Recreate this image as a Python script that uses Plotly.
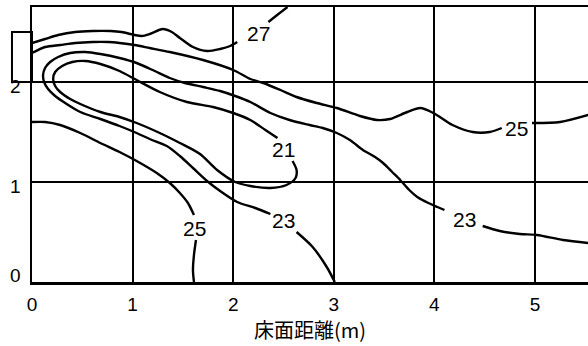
import plotly.graph_objects as go

# ---- contour line data (x: floor distance in m, y: height in m) ----
line27_a_x = [0, .13, .26, .43, .60, .78, .89, 1.02, 1.09, 1.17, 1.30, 1.39, 1.47, 1.60, 1.74, 1.87, 1.97, 2.04]
line27_a_y = [2.39, 2.43, 2.47, 2.50, 2.51, 2.51, 2.50, 2.47, 2.46, 2.48, 2.53, 2.50, 2.44, 2.35, 2.31, 2.33, 2.36, 2.40]
line27_b_x = [2.35, 2.45, 2.54]
line27_b_y = [2.60, 2.68, 2.75]

line25u_a_x = [0, .13, .28, .43, .60, .76, .87, 1.02, 1.17, 1.37, 1.70, 2.00, 2.17, 2.30, 2.47, 2.63, 2.83, 3.03,
               3.26, 3.43, 3.56, 3.73, 3.86, 3.99, 4.18, 4.38, 4.55, 4.67]
line25u_a_y = [2.29, 2.35, 2.37, 2.39, 2.40, 2.40, 2.39, 2.37, 2.34, 2.30, 2.22, 2.12, 2.03, 1.99, 1.92, 1.85, 1.79, 1.74,
               1.66, 1.62, 1.63, 1.70, 1.74, 1.69, 1.57, 1.50, 1.50, 1.54]
line25u_b_x = [4.97, 5.25, 5.53]
line25u_b_y = [1.59, 1.60, 1.67]

line23_a_x = [3.01, 2.93, 2.79, 2.63]
line23_a_y = [0, .15, .35, .50]
line23_b_x = [2.37, 2.22, 2.04, 1.87, 1.74, 1.60, 1.47, 1.34, 1.17, 1.04, .87, .68, .48, .33, .23, .16, .12, .11,
              .13, .18, .26, .38, .53, .68, .87, 1.04, 1.22, 1.37, 1.52, 1.70, 1.87, 2.02, 2.17, 2.37, 2.56, 2.76,
              2.89, 3.03, 3.16, 3.29, 3.41, 3.49, 3.58, 3.66, 3.75, 3.83, 3.94, 4.03, 4.10]
line23_b_y = [.68, .74, .80, .91, 1.01, 1.14, 1.26, 1.36, 1.43, 1.49, 1.56, 1.63, 1.70, 1.79, 1.86, 1.93, 2.00, 2.07,
              2.14, 2.20, 2.25, 2.29, 2.30, 2.28, 2.24, 2.19, 2.11, 2.04, 1.99, 1.95, 1.91, 1.86, 1.80, 1.69, 1.62, 1.57,
              1.54, 1.49, 1.42, 1.32, 1.25, 1.19, 1.10, 1.02, .92, .85, .79, .75, .72]
line23_c_x = [4.48, 4.65, 4.85, 5.02, 5.28, 5.53]
line23_c_y = [.56, .51, .48, .47, .42, .39]

line21_x = [2.44, 2.32, 2.17, 2.00, 1.80, 1.54, 1.27, 1.04, .87, .68, .53, .40, .30, .23, .21, .23, .28, .38, .48,
            .68, .87, 1.04, 1.27, 1.47, 1.67, 1.84, 2.02, 2.17, 2.37, 2.53, 2.62, 2.63, 2.59]
line21_y = [1.44, 1.52, 1.62, 1.69, 1.75, 1.80, 1.90, 2.02, 2.11, 2.18, 2.21, 2.20, 2.16, 2.10, 2.03, 1.96, 1.90, 1.83,
            1.78, 1.70, 1.65, 1.59, 1.49, 1.39, 1.28, 1.12, 1.00, .96, .94, .97, 1.04, 1.12, 1.21]

line25l_a_x = [0, .13, .28, .48, .68, .87, 1.04, 1.24, 1.37, 1.47, 1.55, 1.61]
line25l_a_y = [1.60, 1.60, 1.57, 1.49, 1.39, 1.30, 1.21, 1.09, .99, .89, .79, .67]
line25l_b_x = [1.63, 1.61, 1.60, 1.61]
line25l_b_y = [.42, .27, .12, 0]

label_text = ["27", "25", "21", "23", "25", "23"]
label_x = [2.25, 4.82, 2.50, 2.50, 1.62, 4.30]
label_y = [2.49, 1.54, 1.33, 0.62, 0.54, 0.63]

x_ticks = [0, 1, 2, 3, 4, 5]
y_tick_text = ["0", "1", "2"]
y_tick_pos = [0.07, 0.96, 1.96]
x_title = "床面距離(m)"

FONT = "Liberation Sans, Arial, sans-serif"

segments = [
    (line27_a_x, line27_a_y), (line27_b_x, line27_b_y),
    (line25u_a_x, line25u_a_y), (line25u_b_x, line25u_b_y),
    (line23_a_x, line23_a_y), (line23_b_x, line23_b_y), (line23_c_x, line23_c_y),
    (line21_x, line21_y),
    (line25l_a_x, line25l_a_y), (line25l_b_x, line25l_b_y),
]

fig = go.Figure()
for xs, ys in segments:
    fig.add_trace(go.Scatter(x=xs, y=ys, mode="lines",
                             line=dict(color="black", width=2.4, shape="spline", smoothing=0.8),
                             showlegend=False, hoverinfo="skip", cliponaxis=True))

for t, x, y in zip(label_text, label_x, label_y):
    fig.add_annotation(x=x, y=y, text=t, showarrow=False,
                       font=dict(family=FONT, size=21, color="black"))

for t, y in zip(y_tick_text, y_tick_pos):
    fig.add_annotation(xref="paper", x=0, y=y, text=t, showarrow=False, xanchor="right", yanchor="middle",
                       xshift=-9, font=dict(family=FONT, size=19, color="black"))

# outlet box at the left wall
fig.add_shape(type="rect", xref="paper", yref="paper", x0=-0.036, x1=0, y0=2.0 / 2.75, y1=2.5 / 2.75,
              line=dict(color="black", width=2))

fig.update_xaxes(range=[0, 5.527], tickvals=x_ticks, showgrid=True, gridcolor="black", gridwidth=2,
                 showline=True, linecolor="black", linewidth=2.5, mirror=True, zeroline=False, ticks="",
                 automargin=False, ticklabelstandoff=4,
                 tickfont=dict(family=FONT, size=19, color="black"),
                 title=dict(text=x_title, font=dict(family="Noto Sans CJK JP", size=20, color="black"), standoff=8))
fig.update_yaxes(range=[0, 2.75], tickvals=[0, 1, 2], showticklabels=False, showgrid=True, gridcolor="black",
                 gridwidth=2, showline=True, linecolor="black", linewidth=2.5, mirror=False, zeroline=False,
                 ticks="", automargin=False)

fig.update_layout(width=588, height=346, margin=dict(l=32, r=0, t=7, b=64),
                  paper_bgcolor="white", plot_bgcolor="white")

fig.write_html("out.html", config={"displayModeBar": False, "staticPlot": True},
               post_script="document.body.style.margin='0';")
